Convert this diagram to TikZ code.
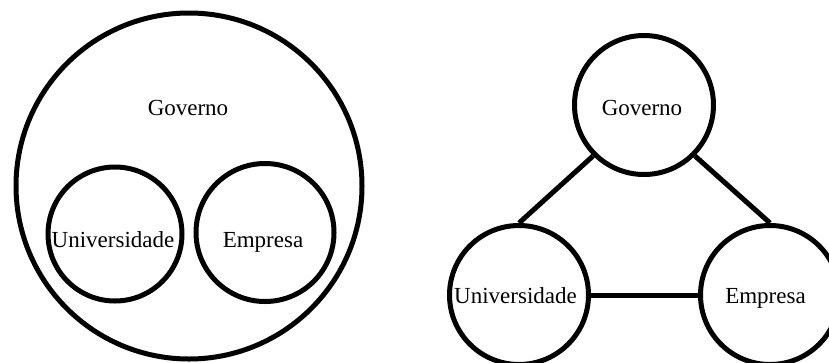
\documentclass[tikz,border=0pt]{standalone}
\usepackage{fontspec}
\setmainfont{Liberation Serif}
\begin{document}
\begin{tikzpicture}[x=1pt,y=-1pt,
  ring/.style={draw=black,line width=5pt,circle,inner sep=0pt,minimum size=#1},
  lbl/.style={anchor=base,inner sep=0pt,font=\fontsize{23}{27}\selectfont},
  link/.style={draw=black,line width=5pt}]
\useasboundingbox (0,0) rectangle (829,362);
% left diagram
\node[ring=346pt] (gbig) at (189,186) {};
\node[ring=134pt] (uleft) at (115,234) {};
\node[ring=138pt] (eleft) at (265,232.5) {};
\node[lbl] (tgl) at (188,115) {Governo};
\node[lbl] (tul) at (113,247) {Universidade};
\node[lbl] (tel) at (263,247) {Empresa};
% right diagram
\node[ring=139pt] (gov) at (644,105) {};
\node[ring=139pt] (uni) at (519,295) {};
\node[ring=139pt] (emp) at (770,295) {};
\node[lbl] (tgr) at (642,115) {Governo};
\node[lbl] (tur) at (515.5,303) {Universidade};
\node[lbl] (ter) at (765.5,303) {Empresa};
\draw[link] (gov.south west) -- (uni.north);
\draw[link] (gov.south east) -- (emp.north);
\draw[link] (uni.east) -- (emp.west);
\end{tikzpicture}
\end{document}
